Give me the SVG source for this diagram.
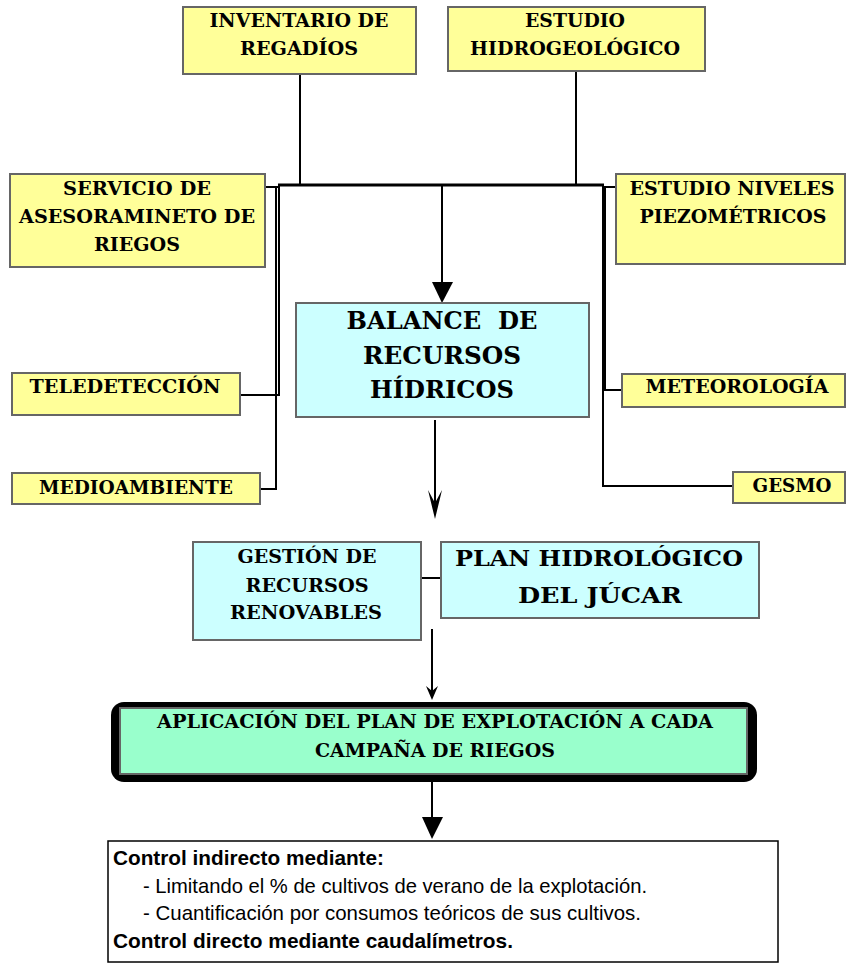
<svg xmlns="http://www.w3.org/2000/svg" width="846" height="963" viewBox="0 0 846 963">
<style>
.y{fill:#FFFF99;stroke:#666666;stroke-width:2}
.c{fill:#CCFFFF;stroke:#666666;stroke-width:2}
.t{font-family:"DejaVu Serif","Liberation Serif",serif;font-weight:bold;fill:#000;text-anchor:middle}
.s18{font-size:19px}
.s24{font-size:25px}
.s22{font-size:23px}
.ln{stroke:#000;stroke-width:2;fill:none}
.bar{stroke:#000;stroke-width:3;fill:none}
.hd{fill:#000;stroke:none}
.b{font-family:"Liberation Sans",Arial,sans-serif;font-size:21px;fill:#000}
</style>
<rect width="846" height="963" fill="#fff"/>
<g id="connectors">
<line class="ln" x1="300" y1="74" x2="300" y2="185"/>
<line class="ln" x1="576" y1="71" x2="576" y2="185"/>
<line class="bar" x1="278" y1="185" x2="604" y2="185"/>
<line class="ln" x1="265" y1="187" x2="279" y2="187"/>
<line class="ln" x1="279" y1="185" x2="279" y2="396"/>
<line class="ln" x1="276" y1="187" x2="276" y2="490"/>
<line class="ln" x1="240" y1="395" x2="280" y2="395"/>
<line class="ln" x1="260" y1="489" x2="277" y2="489"/>
<line class="ln" x1="602" y1="187" x2="616" y2="187"/>
<line class="ln" x1="603" y1="185" x2="603" y2="487"/>
<line class="ln" x1="605" y1="187" x2="605" y2="391"/>
<line class="ln" x1="604" y1="390" x2="622" y2="390"/>
<line class="ln" x1="602" y1="486" x2="733" y2="486"/>
<line class="ln" x1="442" y1="185" x2="442" y2="284"/>
<path class="hd" d="M432,282 L453,282 L442,303 Z"/>
<line class="ln" x1="435" y1="420" x2="435" y2="508"/>
<path class="hd" d="M435,519 L428,490 L435,503 L442,490 Z"/>
<line class="ln" x1="421" y1="578" x2="441" y2="578"/>
<line class="ln" x1="432" y1="629" x2="432" y2="692"/>
<path class="hd" d="M432,700 L426,686 L432,691 L438,686 Z"/>
<line class="ln" x1="432" y1="782" x2="432" y2="820"/>
<path class="hd" d="M422,817 L443,817 L432,839 Z"/>
</g>
<g id="inventario">
<rect class="y" x="183" y="7" width="233" height="67"/>
<text class="t s18" x="299" y="27" textLength="179" lengthAdjust="spacingAndGlyphs">INVENTARIO DE</text>
<text class="t s18" x="299" y="55" textLength="118" lengthAdjust="spacingAndGlyphs">REGADÍOS</text>
</g>
<g id="hidrogeologico">
<rect class="y" x="448" y="7" width="257" height="64"/>
<text class="t s18" x="575" y="27" textLength="100" lengthAdjust="spacingAndGlyphs">ESTUDIO</text>
<text class="t s18" x="575" y="55" textLength="210" lengthAdjust="spacingAndGlyphs">HIDROGEOLÓGICO</text>
</g>
<g id="servicio">
<rect class="y" x="10" y="174" width="255" height="93"/>
<text class="t s18" x="137" y="195" textLength="148" lengthAdjust="spacingAndGlyphs">SERVICIO DE</text>
<text class="t s18" x="137" y="223" textLength="236" lengthAdjust="spacingAndGlyphs">ASESORAMINETO DE</text>
<text class="t s18" x="137" y="251" textLength="86" lengthAdjust="spacingAndGlyphs">RIEGOS</text>
</g>
<g id="niveles">
<rect class="y" x="616" y="174" width="229" height="90"/>
<text class="t s18" x="732" y="195" textLength="205" lengthAdjust="spacingAndGlyphs">ESTUDIO NIVELES</text>
<text class="t s18" x="733" y="223" textLength="187" lengthAdjust="spacingAndGlyphs">PIEZOMÉTRICOS</text>
</g>
<g id="teledeteccion">
<rect class="y" x="12" y="373" width="228" height="42"/>
<text class="t s18" x="125" y="393" textLength="191" lengthAdjust="spacingAndGlyphs">TELEDETECCIÓN</text>
</g>
<g id="medioambiente">
<rect class="y" x="12" y="473" width="248" height="31"/>
<text class="t s18" x="136" y="494" textLength="194" lengthAdjust="spacingAndGlyphs">MEDIOAMBIENTE</text>
</g>
<g id="meteorologia">
<rect class="y" x="622" y="374" width="223" height="33"/>
<text class="t s18" x="737" y="393" textLength="183" lengthAdjust="spacingAndGlyphs">METEOROLOGÍA</text>
</g>
<g id="gesmo">
<rect class="y" x="733" y="472" width="112" height="31"/>
<text class="t s18" x="792" y="492" textLength="79" lengthAdjust="spacingAndGlyphs">GESMO</text>
</g>
<g id="balance">
<rect class="c" x="296" y="303" width="293" height="114"/>
<text class="t s24" x="442" y="329" textLength="191" lengthAdjust="spacingAndGlyphs" xml:space="preserve">BALANCE  DE</text>
<text class="t s24" x="442" y="364" textLength="158" lengthAdjust="spacingAndGlyphs">RECURSOS</text>
<text class="t s24" x="442" y="398" textLength="144" lengthAdjust="spacingAndGlyphs">HÍDRICOS</text>
</g>
<g id="gestion">
<rect class="c" x="193" y="542" width="228" height="98"/>
<text class="t s18" x="307" y="563" textLength="139" lengthAdjust="spacingAndGlyphs">GESTIÓN DE</text>
<text class="t s18" x="307" y="592" textLength="123" lengthAdjust="spacingAndGlyphs">RECURSOS</text>
<text class="t s18" x="306" y="619" textLength="152" lengthAdjust="spacingAndGlyphs">RENOVABLES</text>
</g>
<g id="plan">
<rect class="c" x="441" y="542" width="318" height="76"/>
<text class="t s22" x="599" y="566" textLength="288" lengthAdjust="spacingAndGlyphs">PLAN HIDROLÓGICO</text>
<text class="t s22" x="600" y="603" textLength="164" lengthAdjust="spacingAndGlyphs">DEL JÚCAR</text>
</g>
<g id="aplicacion">
<rect x="111" y="702" width="646" height="80" rx="13" fill="#000"/>
<rect x="120" y="708" width="627" height="66" fill="#99FFCC" stroke="#666666" stroke-width="2"/>
<text class="t s18" x="435" y="728" textLength="556" lengthAdjust="spacingAndGlyphs">APLICACIÓN DEL PLAN DE EXPLOTACIÓN A CADA</text>
<text class="t s18" x="435" y="757" textLength="240" lengthAdjust="spacingAndGlyphs">CAMPAÑA DE RIEGOS</text>
</g>
<g id="control">
<rect x="108" y="841" width="670" height="121" fill="#fff" stroke="#000" stroke-width="1.5"/>
<text class="b" x="113" y="865" font-weight="bold" textLength="271" lengthAdjust="spacingAndGlyphs">Control indirecto mediante:</text>
<text class="b" x="143" y="893" textLength="504" lengthAdjust="spacingAndGlyphs">- Limitando el % de cultivos de verano de la explotación.</text>
<text class="b" x="143" y="920" textLength="498" lengthAdjust="spacingAndGlyphs">- Cuantificación por consumos teóricos de sus cultivos.</text>
<text class="b" x="113" y="948" font-weight="bold" textLength="400" lengthAdjust="spacingAndGlyphs">Control directo mediante caudalímetros.</text>
</g>
</svg>
